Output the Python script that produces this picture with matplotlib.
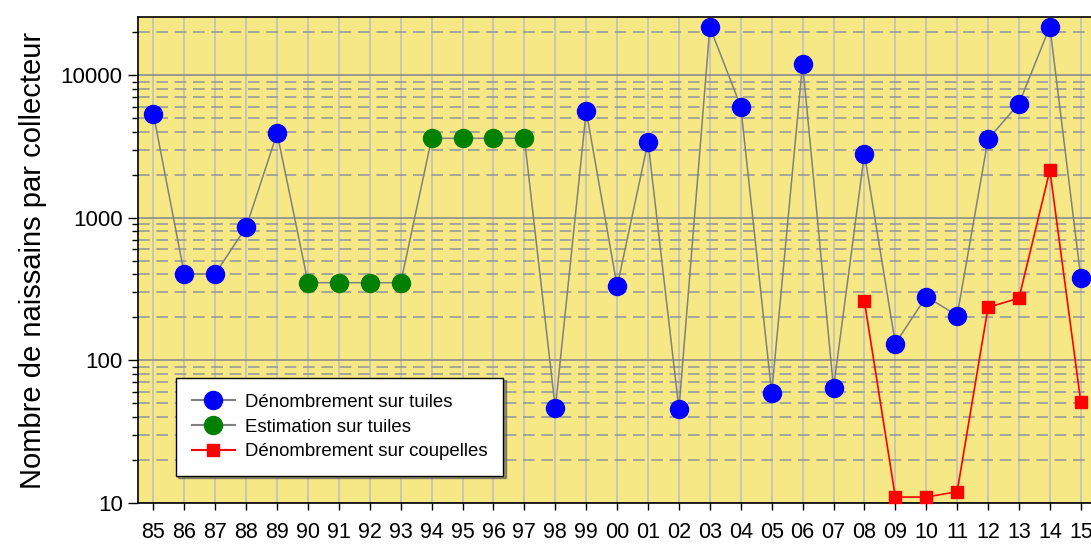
import numpy as np
import matplotlib.pyplot as plt
from matplotlib.ticker import LogLocator, NullFormatter

plt.rcParams['font.family'] = ['Liberation Sans', 'DejaVu Sans']

# annees 1985 -> 2015
annees = ['85', '86', '87', '88', '89', '90', '91', '92', '93', '94', '95',
          '96', '97', '98', '99', '00', '01', '02', '03', '04', '05', '06',
          '07', '08', '09', '10', '11', '12', '13', '14', '15']

# serie tuiles (denombrement + estimation), dans l'ordre des annees
tuiles = [5300, 400, 405, 860, 3900, 350, 350, 350, 350, 3600, 3600,
          3600, 3600, 46, 5600, 330, 3400, 45.5, 21700, 6000, 59, 12000,
          64, 2800, 131, 280, 206, 3550, 6300, 21800, 380]
# True = estimation (vert), False = denombrement (bleu)
estimation = [False, False, False, False, False, True, True, True, True,
              True, True, True, True, False, False, False, False, False,
              False, False, False, False, False, False, False, False,
              False, False, False, False, False]

# coupelles, de 2008 a 2015
annees_coupelles = ['08', '09', '10', '11', '12', '13', '14', '15']
coupelles = [259, 11, 11, 12, 235, 273, 2150, 51]

fond = '#F7E886'

fig = plt.figure(figsize=(10.91, 5.45), dpi=100)
ax = fig.add_axes([0.1265, 0.0771, 0.8735, 0.8917])
ax.set_facecolor(fond)

x = np.arange(len(annees))
tuiles = np.array(tuiles)
est = np.array(estimation)

# grilles
ax.set_yscale('log')
ax.set_ylim(10, 25500)
ax.set_xlim(-0.5, 30.33)
ax.yaxis.set_major_locator(LogLocator(base=10))
ax.yaxis.set_minor_locator(LogLocator(base=10, subs=np.arange(2, 10)))
ax.yaxis.set_minor_formatter(NullFormatter())
ax.grid(True, which='major', axis='y', color='#8c8c8c', lw=1.2, ls='-')
ax.grid(True, which='minor', axis='y', color='#999999', lw=1.2, ls=(0, (7, 4)))
ax.grid(True, which='major', axis='x', color='#c0c0c0', lw=1.2, ls='-')
ax.set_axisbelow(True)

# ligne grise commune
ax.plot(x, tuiles, color='#808080', lw=1.1, zorder=2)
ax.plot(x[~est], tuiles[~est], 'o', color='#0000ff', ms=13, mec='#0000ff',
        zorder=3)
ax.plot(x[est], tuiles[est], 'o', color='#008000', ms=13, mec='#008000',
        zorder=3)

xc = [annees.index(a) for a in annees_coupelles]
ax.plot(xc, coupelles, '-s', color='#ff0000', lw=1.2, ms=9, zorder=4,
        clip_on=False)

# legende (proxys)
h1, = ax.plot([], [], '-o', color='#808080', mfc='#0000ff', mec='#0000ff', ms=13)
h2, = ax.plot([], [], '-o', color='#808080', mfc='#008000', mec='#008000', ms=13)
h3, = ax.plot([], [], '-s', color='#ff0000', ms=9)
leg = ax.legend([h1, h2, h3],
                ['Dénombrement sur tuiles', 'Estimation sur tuiles',
                 'Dénombrement sur coupelles'],
                loc='lower left', bbox_to_anchor=(0.04, 0.055),
                fontsize=13.4, fancybox=False,
                shadow={'ox': 1.5, 'oy': -1.5, 'color': '#555555', 'alpha': 0.6},
                framealpha=1, edgecolor='black', handlelength=2.3,
                labelspacing=0.42, borderpad=0.85, handletextpad=0.55,
                borderaxespad=0)
leg.get_frame().set_linewidth(1.0)

ax.set_xticks(x)
ax.set_xticklabels(annees)
ax.tick_params(axis='x', length=5, width=1, pad=9, labelsize=15.5)
ax.tick_params(axis='y', which='major', length=7, width=1, labelsize=16, pad=4)
ax.tick_params(axis='y', which='minor', length=4, width=1)
ax.yaxis.set_major_formatter(plt.FuncFormatter(lambda v, p: '%d' % v))

ax.spines['right'].set_visible(False)
for s in ['left', 'top', 'bottom']:
    ax.spines[s].set_linewidth(1.2)

ax.set_ylabel('Nombre de naissains par collecteur', fontsize=21, labelpad=10)

fig.savefig('out.png', dpi=100)
